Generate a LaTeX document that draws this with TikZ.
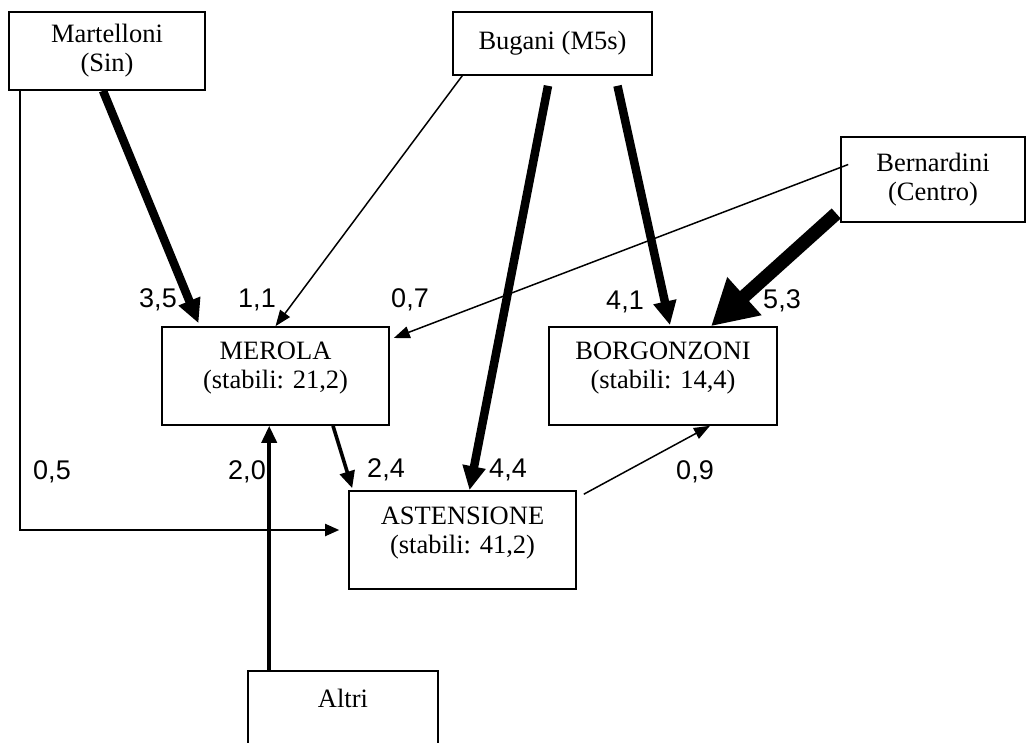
\documentclass[tikz,border=0pt]{standalone}
\usepackage{fontspec}
\setmainfont{Liberation Serif}
\newfontfamily\lblfont{Liberation Sans}
\usetikzlibrary{arrows.meta}

\begin{document}
\begin{tikzpicture}[x=1pt,y=-1pt,
  box/.style={draw, line width=1.6pt, inner sep=0pt},
  boxtext/.style={font=\fontsize{26.5}{29}\selectfont, align=center, inner sep=0pt},
  num/.style={font=\lblfont\fontsize{27}{27}\selectfont, inner sep=0pt},
  wthin/.style={line width=1.5pt, -{Triangle[length=16pt,width=12pt]}},
  welbow/.style={line width=1.9pt, -{Triangle[length=14pt,width=12pt]}},
  wmed/.style={line width=3.6pt, -{Triangle[length=17pt,width=15pt]}},
  wthick/.style={line width=8.5pt, -{Triangle[length=24pt,width=22pt]}},
  wheavy/.style={line width=13.5pt, -{Triangle[length=45pt,width=48pt]}}
]
\useasboundingbox (0,0) rectangle (1027,742);

% candidate boxes
\node[box, minimum width=196pt, minimum height=78pt] (mart) at (107,51) {};
\node[boxtext] (marttxt) at (mart.center) {Martelloni\\(Sin)};

\node[box, minimum width=199pt, minimum height=63pt] (bug) at (552.5,43.5) {};
\node[boxtext] (bugtxt) at (bug.center) {Bugani (M5s)};

\node[box, minimum width=184pt, minimum height=85pt] (bern) at (933,179.5) {};
\node[boxtext] (berntxt) at (bern.center) {Bernardini\\(Centro)};

% destination boxes
\node[box, minimum width=227pt, minimum height=98pt] (merola) at (275.5,376) {};
\node[boxtext] (merolatxt) at ([yshift=8pt]merola.center) {MEROLA\\(stabili: 21,2)};

\node[box, minimum width=228pt, minimum height=98pt] (borg) at (663,376) {};
\node[boxtext] (borgtxt) at ([yshift=8pt]borg.center) {BORGONZONI\\(stabili: 14,4)};

\node[box, minimum width=227pt, minimum height=98pt] (ast) at (462.5,540) {};
\node[boxtext] (asttxt) at ([yshift=7pt]ast.center) {ASTENSIONE\\(stabili: 41,2)};

\node[box, minimum width=190pt, minimum height=100pt] (altri) at (343,721) {};
\node[boxtext] (altritxt) at ([yshift=23pt]altri.center) {Altri};

% flows
\draw[wthick] ([xshift=-4pt]mart.south) -- ([xshift=-77pt,yshift=3pt]merola.north);
\draw[wthin] ([xshift=10pt]bug.south west) -- (merola.north);
\draw[wthick] ([xshift=-4.5pt,yshift=-10pt]bug.south) -- ([xshift=7pt]ast.north);
\draw[wthick] ([xshift=65pt,yshift=-10pt]bug.south) -- ([xshift=7pt,yshift=1pt]borg.north);
\draw[wthin] ([xshift=8pt,yshift=15pt]bern.west) -- ([xshift=4pt,yshift=38pt]merola.east);
\draw[wheavy] ([xshift=-4pt,yshift=-34pt]bern.west) -- ([xshift=48pt]borg.north);
\draw[welbow] ([xshift=12pt]mart.south west) |- ([xshift=-9pt,yshift=10pt]ast.west);
\draw[wmed] ([xshift=57.5pt]merola.south) -- ([xshift=4pt,yshift=2pt]ast.north west);
\coordinate (altritop) at ([xshift=22pt]altri.north west);
\draw[wmed] (altritop) -- (altritop |- merola.south);
\draw[wthin] ([xshift=7pt,yshift=-4pt]ast.north east) -- ([xshift=47pt]borg.south);

% flow values
\node[num] (l35) at (158,300) {3,5};
\node[num] (l11) at (257,300) {1,1};
\node[num] (l07) at (410,300) {0,7};
\node[num] (l41) at (625,302) {4,1};
\node[num] (l53) at (782,301) {5,3};
\node[num] (l05) at (52,472) {0,5};
\node[num] (l20) at (247,472) {2,0};
\node[num] (l24) at (386,470) {2,4};
\node[num] (l44) at (508,470) {4,4};
\node[num] (l09) at (695,472) {0,9};
\end{tikzpicture}
\end{document}
